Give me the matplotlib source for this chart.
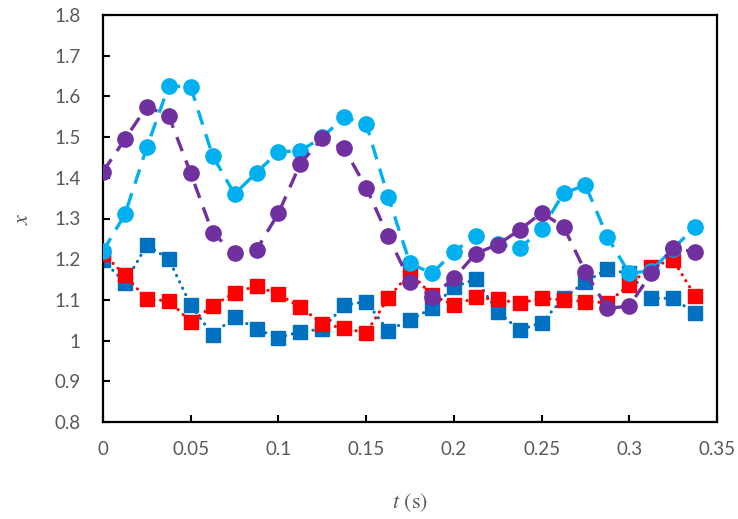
import numpy as np
import matplotlib
matplotlib.use('Agg')
import matplotlib.pyplot as plt

# 時刻 (s)
t = np.arange(28) * 0.0125

# 各系列の値
x_cyan = [1.22, 1.31, 1.475, 1.626, 1.623, 1.454, 1.36, 1.413, 1.464, 1.466,
          1.50, 1.549, 1.532, 1.354, 1.19, 1.165, 1.218, 1.258, 1.237, 1.227,
          1.273, 1.362, 1.382, 1.255, 1.165, 1.172, 1.226, 1.279]
x_purple = [1.415, 1.495, 1.575, 1.552, 1.411, 1.264, 1.216, 1.223, 1.313, 1.435,
            1.497, 1.472, 1.376, 1.257, 1.145, 1.108, 1.153, 1.214, 1.236, 1.272,
            1.314, 1.28, 1.169, 1.079, 1.085, 1.165, 1.227, 1.218]
x_blue = [1.198, 1.142, 1.235, 1.2, 1.087, 1.014, 1.059, 1.028, 1.007, 1.022,
          1.028, 1.087, 1.096, 1.024, 1.051, 1.079, 1.132, 1.151, 1.071, 1.026,
          1.044, 1.104, 1.145, 1.175, 1.165, 1.104, 1.104, 1.067]
x_red = [1.214, 1.161, 1.101, 1.098, 1.046, 1.085, 1.118, 1.134, 1.114, 1.082,
         1.042, 1.03, 1.019, 1.104, 1.167, 1.112, 1.087, 1.106, 1.101, 1.092,
         1.104, 1.1, 1.096, 1.093, 1.137, 1.182, 1.198, 1.11]

xticks = [0, 0.05, 0.1, 0.15, 0.2, 0.25, 0.3, 0.35]
xticklabels = ['0', '0.05', '0.1', '0.15', '0.2', '0.25', '0.3', '0.35']
yticks = [0.8, 0.9, 1.0, 1.1, 1.2, 1.3, 1.4, 1.5, 1.6, 1.7, 1.8]
yticklabels = ['0.8', '0.9', '1', '1.1', '1.2', '1.3', '1.4', '1.5', '1.6', '1.7', '1.8']

plt.rcParams['font.family'] = ['Lato', 'DejaVu Sans']
plt.rcParams['mathtext.fontset'] = 'stix'

fig = plt.figure(figsize=(7.38, 5.19), dpi=100)
ax = fig.add_axes([103/738, 1-422/519, (717-103)/738, (422-15)/519])

ax.plot(t, x_blue, color='#0070C0', linestyle=(0, (0.1, 2.2)), dash_capstyle='round',
        linewidth=2.2, marker='s', markersize=9.5, zorder=2)
ax.plot(t, x_red, color='#FF0000', linestyle=(0, (0.1, 2.2)), dash_capstyle='round',
        linewidth=2.2, marker='s', markersize=9.5, zorder=3)
ax.plot(t, x_cyan, color='#00B0F0', linestyle=(0, (4.5, 3)),
        linewidth=2.4, marker='o', markersize=11, zorder=4)
ax.plot(t, x_purple, color='#7030A0', linestyle=(0, (4.5, 3)),
        linewidth=2.4, marker='o', markersize=11, zorder=5)

ax.set_xlim(0, 0.35)
ax.set_ylim(0.8, 1.8)
ax.set_xticks(xticks)
ax.set_xticklabels(xticklabels)
ax.set_yticks(yticks)
ax.set_yticklabels(yticklabels)
ax.tick_params(direction='in', length=5, width=1.5, labelsize=13.5,
               labelcolor='#595959')
ax.tick_params(axis='x', pad=14)
ax.tick_params(axis='y', pad=16)
for s in ax.spines.values():
    s.set_linewidth(1.6)
    s.set_color('black')

ax.set_xlabel(r'$t$ (s)', fontsize=16, color='#595959', family='STIXGeneral')
ax.set_ylabel(r'$x$', fontsize=16, color='#595959', rotation=90)
ax.xaxis.label.set_va('center')
ax.yaxis.label.set_va('center')
ax.xaxis.set_label_coords(0.5, -0.199)
ax.yaxis.set_label_coords(-0.132, 0.5)

plt.savefig('out.png', dpi=100)
